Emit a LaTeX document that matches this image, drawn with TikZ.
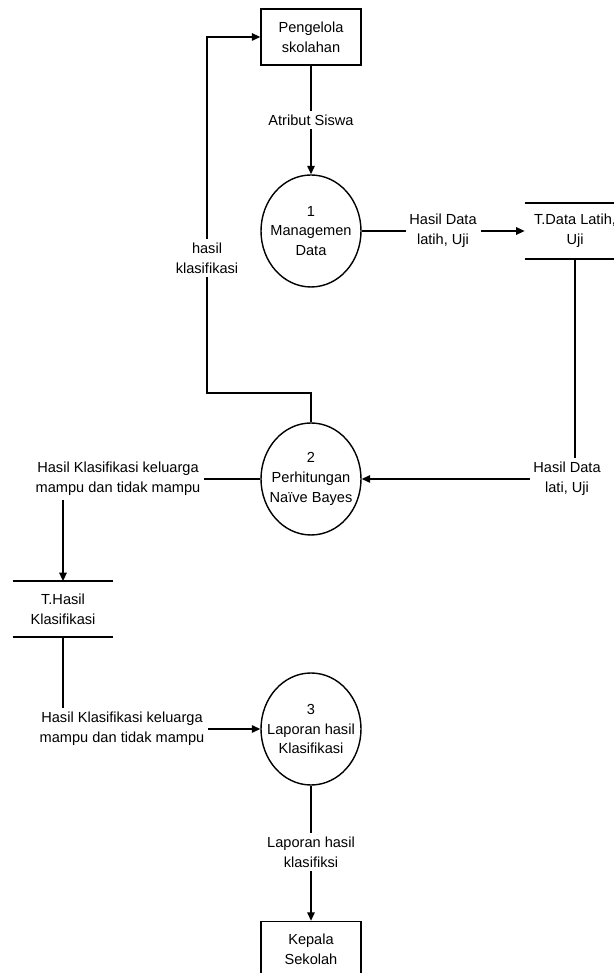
\documentclass[tikz,border=0pt]{standalone}
\usepackage{fontspec}
\setmainfont{Liberation Sans}
\usetikzlibrary{arrows.meta,shapes.geometric}
\tikzset{
  entity/.style={draw, line width=0.8pt, minimum width=2cm, minimum height=1.12cm, align=center},
  process/.style={draw, ellipse, line width=0.8pt, minimum width=2cm, minimum height=2.24cm, inner sep=0pt},
  store/.style={minimum width=2cm, minimum height=1.1cm, align=center},
  line/.style={line width=0.8pt},
  flow/.style={line width=0.8pt, -{Triangle[length=1.7mm,width=1.5mm]}},
  lbl/.style={align=center, inner sep=2pt}
}
\begin{document}
\begin{tikzpicture}[every node/.append style={font=\fontsize{8.3pt}{11.3pt}\selectfont}]
        \useasboundingbox (0,0) rectangle (12.28,19.46);
        \node[entity] (pengelola) at (6.22,18.72) {Pengelola\\skolahan};
        \node[process, label={[align=center]center:1\\Managemen\\Data}] (p1) at (6.22,14.84) {};
        \node[store] (dlatih) at (11.5,14.84) {T.Data Latih,\\Uji};
        \node[process, label={[align=center]center:2\\Perhitungan\\Naïve Bayes}] (p2) at (6.22,9.88) {};
        \node[store] (dhasil) at (1.26,7.28) {T.Hasil\\Klasifikasi};
        \node[process, label={[align=center]center:3\\Laporan hasil\\Klasifikasi}] (p3) at (6.22,4.88) {};
        \node[entity] (kepala) at (6.22,0.47) {Kepala\\Sekolah};
        \draw[line] (dlatih.north west) -- (dlatih.north east) (dlatih.south west) -- (dlatih.south east);
        \draw[line] (dhasil.north west) -- (dhasil.north east) (dhasil.south west) -- (dhasil.south east);
        \node[lbl] (atribut) at (6.22,17.06) {Atribut Siswa};
        \node[lbl] (hdl) at (8.86,14.84) {Hasil Data\\latih, Uji};
        \node[lbl] (hk) at (4.14,14.3) {hasil\\klasifikasi};
        \node[lbl] (hdu) at (11.34,9.88) {Hasil Data\\lati, Uji};
        \node[lbl] (hk1) at (2.36,9.88) {Hasil Klasifikasi keluarga\\mampu dan tidak mampu};
        \node[lbl] (hk2) at (2.44,4.88) {Hasil Klasifikasi keluarga\\mampu dan tidak mampu};
        \node[lbl] (lap) at (6.22,2.42) {Laporan hasil\\klasifiksi};
        \coordinate (belok) at (4.14,11.6);
        \draw[line] (pengelola) -- (atribut);
        \draw[flow] (atribut) -- (p1);
        \draw[line] (p1) -- (hdl);
        \draw[flow] (hdl) -- (dlatih);
        \draw[line] (p2) |- (belok) -- (hk);
        \draw[flow] (hk) |- (pengelola);
        \draw[line] (dlatih) -- (hdu.north -| dlatih);
        \draw[flow] (hdu) -- (p2);
        \draw[line] (p2) -- (hk1);
        \draw[flow] (hk1.south -| dhasil) -- (dhasil);
        \draw[line] (dhasil) -- (hk2.north -| dhasil);
        \draw[flow] (hk2) -- (p3);
        \draw[line] (p3) -- (lap);
        \draw[flow] (lap) -- (kepala);
    \end{tikzpicture}
\end{document}
